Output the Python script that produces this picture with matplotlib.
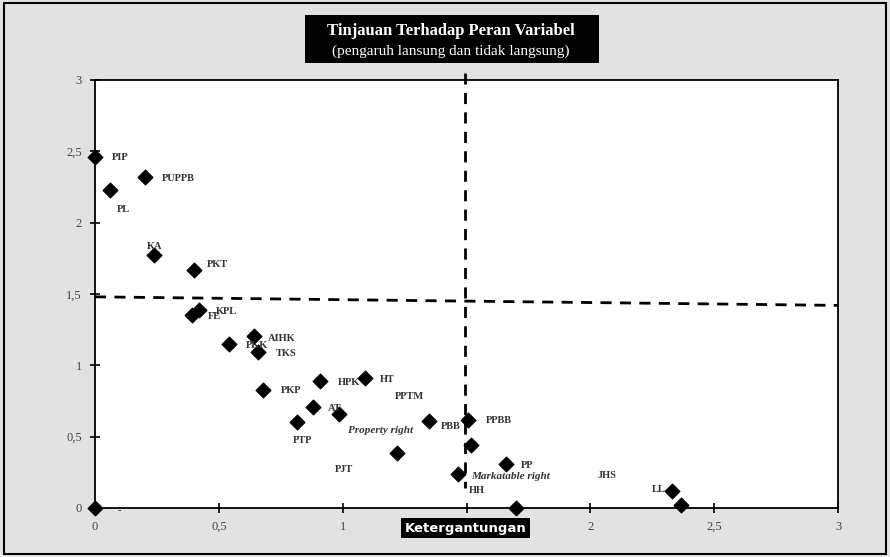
import matplotlib
matplotlib.use("Agg")
import matplotlib.pyplot as plt
from matplotlib.ticker import FuncFormatter

# data
x_pts = [0, 0, 0.06, 0.20, 0.24, 0.40, 0.42, 0.39, 0.64, 0.54, 0.66, 0.68, 0.91, 1.09,
         0.88, 0.985, 0.815, 1.35, 1.22, 1.505, 1.52, 1.66, 1.465, 1.70, 2.33, 2.365]
y_pts = [0, 2.46, 2.23, 2.32, 1.77, 1.67, 1.39, 1.35, 1.205, 1.15, 1.09, 0.83, 0.89, 0.91,
         0.71, 0.66, 0.60, 0.61, 0.385, 0.62, 0.44, 0.31, 0.24, 0, 0.12, 0.02]

labels = ["PIP", "PUPPB", "PL", "KA", "PKT", "KPL", "FE", "AIHK", "PKK", "TKS", "PKP",
          "HPK", "HT", "PPTM", "AT", "PTP", "PBB", "PPBB", "PJT", "PP", "HH", "JHS", "LL", "-"]
label_x = [0.07, 0.27, 0.09, 0.21, 0.45, 0.49, 0.455, 0.70, 0.61, 0.73, 0.75,
           0.98, 1.15, 1.21, 0.94, 0.80, 1.395, 1.58, 0.97, 1.72, 1.51, 2.03, 2.25, 0.09]
label_y = [2.46, 2.31, 2.09, 1.83, 1.71, 1.38, 1.34, 1.19, 1.14, 1.08, 0.82,
           0.88, 0.90, 0.78, 0.70, 0.47, 0.57, 0.61, 0.27, 0.30, 0.12, 0.23, 0.13, -0.02]
italic_labels = ["Property right", "Markatable right"]
italic_x = [1.02, 1.52]
italic_y = [0.54, 0.22]

h_line_x = [0, 3]
h_line_y = [1.48, 1.42]
v_line_x = [1.494, 1.494]
v_line_y = [3.05, 0.14]

ticks = [0, 0.5, 1, 1.5, 2, 2.5, 3]

fig = plt.figure(figsize=(8.9, 5.57), dpi=100, facecolor="#e2e2e2")
ax = fig.add_axes([0.1067, 0.088, 0.835, 0.7684])
ax.set_facecolor("white")

ax.plot(h_line_x, h_line_y, color="black", lw=2, ls=(0, (4, 3)), zorder=2)
ax.plot(v_line_x, v_line_y, color="black", lw=2, ls=(0, (4, 3)), zorder=2, clip_on=False)

ax.scatter(x_pts, y_pts, marker="D", s=55, color="black", zorder=4, clip_on=False)

for t, lx, ly in zip(labels, label_x, label_y):
    ax.text(lx, ly, t, fontsize=7.5, fontweight="bold", family="Liberation Serif",
            color="#333333", va="center", ha="left", zorder=5)
for t, lx, ly in zip(italic_labels, italic_x, italic_y):
    ax.text(lx, ly, t, fontsize=8, fontweight="bold", style="italic",
            family="Liberation Serif", color="#333333", va="center", ha="left", zorder=5)

ax.set_xlim(0, 3)
ax.set_ylim(0, 3)
ax.set_xticks(ticks)
ax.set_yticks(ticks)
fmt = FuncFormatter(lambda v, p: ("%g" % v).replace(".", ","))
# x label 1,5 sits behind the "Ketergantungan" box in the reference
xfmt = FuncFormatter(lambda v, p: "" if v == 1.5 else ("%g" % v).replace(".", ","))
ax.xaxis.set_major_formatter(xfmt)
ax.yaxis.set_major_formatter(fmt)
ax.tick_params(direction="inout", length=7, width=1.2, labelsize=9, labelcolor="#444444", pad=6)
for lab in ax.get_xticklabels() + ax.get_yticklabels():
    lab.set_family("Liberation Serif")
for s in ax.spines.values():
    s.set_linewidth(1.3)

fig.add_artist(plt.Rectangle((0.3427, 0.887), 0.3303, 0.086, transform=fig.transFigure,
                             facecolor="black", edgecolor="none", zorder=-1))
fig.text(0.507, 0.944, "Tinjauan Terhadap Peran Variabel", ha="center", va="center",
         fontsize=12, fontweight="bold", family="Liberation Serif", color="white")
fig.text(0.507, 0.908, "(pengaruh lansung dan tidak langsung)", ha="center", va="center",
         fontsize=11, family="Liberation Serif", color="white")

fig.text(0.523, 0.052, "Ketergantungan", ha="center", va="center", fontsize=9.5,
         fontweight="bold", family="DejaVu Sans", color="white",
         bbox=dict(facecolor="black", edgecolor="none", boxstyle="square,pad=0.25"))

fig.add_artist(plt.Rectangle((0.004, 0.006), 0.992, 0.988, transform=fig.transFigure,
                             facecolor="none", edgecolor="black", lw=1.5))

fig.savefig("out.png", dpi=100, facecolor=fig.get_facecolor())
